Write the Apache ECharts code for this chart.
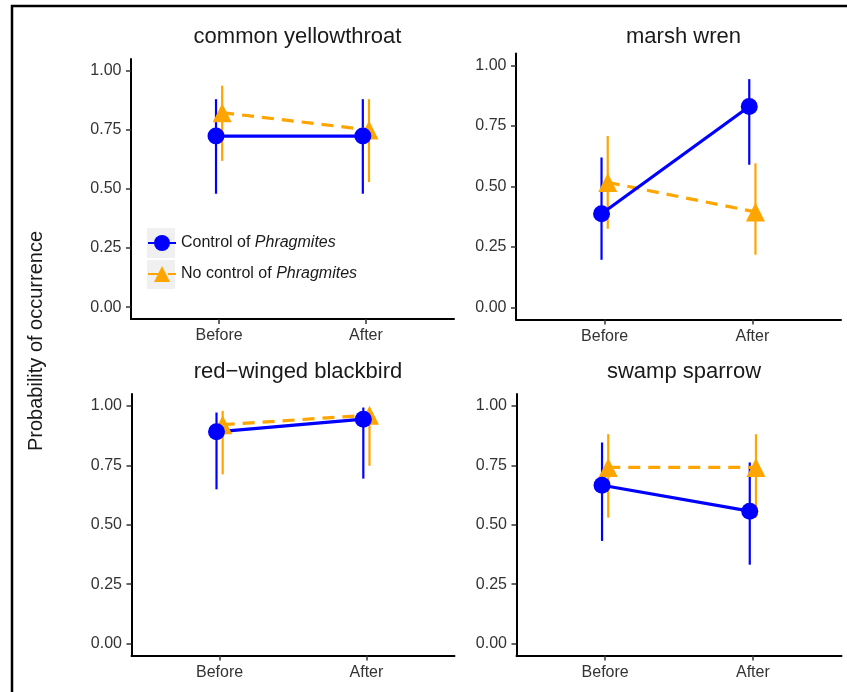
<!DOCTYPE html>
<html>
<head>
<meta charset="utf-8">
<script src="https://cdn.jsdelivr.net/npm/echarts@6/dist/echarts.min.js"></script>
<style>html,body{margin:0;padding:0;background:#fff;}#c{width:847px;height:692px;}</style>
</head>
<body>
<div id="c"></div>
<script>
// ---- data ----
const categories = ['Before', 'After'];
const panelTitles = ['common yellowthroat', 'marsh wren', 'red\u2212winged blackbird', 'swamp sparrow'];
const yTickValues = [0, 0.25, 0.5, 0.75, 1.0];
const seriesNames = ['Control of Phragmites', 'No control of Phragmites'];

// Control of Phragmites (blue)
const ctrlMean = [[0.724, 0.724], [0.387, 0.831], [0.891, 0.944], [0.666, 0.557]];
const ctrlLow  = [[0.480, 0.480], [0.197, 0.590], [0.649, 0.694], [0.432, 0.332]];
const ctrlHigh = [[0.880, 0.880], [0.620, 0.944], [0.972, 0.993], [0.846, 0.762]];
// No control of Phragmites (orange)
const noMean = [[0.823, 0.750], [0.517, 0.395], [0.921, 0.961], [0.741, 0.741]];
const noLow  = [[0.619, 0.529], [0.325, 0.218], [0.712, 0.748], [0.530, 0.530]];
const noHigh = [[0.937, 0.880], [0.709, 0.596], [0.979, 0.990], [0.881, 0.881]];

// ---- layout ----
const grids = [
  {left: 131, top: 59, width: 323, height: 260},
  {left: 516, top: 53.5, width: 325, height: 266},
  {left: 131.5, top: 394, width: 323, height: 261.5},
  {left: 516.5, top: 394, width: 325, height: 261.5}
];
const dodge = 0.021;
const BLUE = '#0000FF', ORANGE = '#FFA500';
const FONT = "'Liberation Sans', Arial, sans-serif";

const chart = echarts.init(document.getElementById('c'), null, {renderer: 'canvas'});

const xAxes = [], yAxes = [], titles = [], series = [];
grids.forEach((g, i) => {
  xAxes.push({
    gridIndex: i, type: 'value', min: 0.4, max: 2.6,
    axisLine: {show: true, onZero: false, lineStyle: {color: '#000', width: 2}},
    axisTick: {show: true, customValues: categories.map((c, j) => j + 1), length: 5, lineStyle: {color: '#333', width: 1.5}},
    axisLabel: {customValues: categories.map((c, j) => j + 1), formatter: v => categories[Math.round(v) - 1] || '',
      color: '#333', fontSize: 16, fontFamily: FONT, margin: 9},
    splitLine: {show: false}
  });
  yAxes.push({
    gridIndex: i, type: 'value', min: -0.05, max: 1.05,
    axisLine: {show: true, onZero: false, lineStyle: {color: '#000', width: 2}},
    axisTick: {show: true, customValues: yTickValues, length: 5, lineStyle: {color: '#333', width: 1.5}},
    axisLabel: {customValues: yTickValues, formatter: v => v.toFixed(2), color: '#333', fontSize: 16, fontFamily: FONT, margin: 9.5},
    splitLine: {show: false}
  });
  titles.push({
    text: panelTitles[i], left: g.left + g.width / 2, top: i < 2 ? 21 : 356, textAlign: 'center',
    textStyle: {fontSize: 22, fontWeight: 'normal', color: '#1a1a1a', fontFamily: FONT}
  });

  const groups = [
    {name: seriesNames[1], color: ORANGE, mean: noMean[i], lo: noLow[i], hi: noHigh[i], off: dodge, dashed: true, symbol: 'triangle', size: 19},
    {name: seriesNames[0], color: BLUE, mean: ctrlMean[i], lo: ctrlLow[i], hi: ctrlHigh[i], off: -dodge, dashed: false, symbol: 'circle', size: 17}
  ];
  groups.forEach(gr => {
    series.push({
      type: 'custom', name: gr.name + ' err', xAxisIndex: i, yAxisIndex: i, silent: true,
      data: categories.map((c, j) => [j + 1 + gr.off, gr.lo[j], gr.hi[j]]),
      encode: {x: 0, y: [1, 2]},
      renderItem: (params, api) => {
        const p1 = api.coord([api.value(0), api.value(1)]);
        const p2 = api.coord([api.value(0), api.value(2)]);
        return {type: 'line', shape: {x1: p1[0], y1: p1[1], x2: p2[0], y2: p2[1]},
          style: {stroke: gr.color, lineWidth: 2.2}};
      }
    });
    series.push({
      type: 'line', name: gr.name, xAxisIndex: i, yAxisIndex: i,
      data: categories.map((c, j) => [j + 1 + gr.off, gr.mean[j]]),
      symbol: gr.symbol, symbolSize: gr.size, showSymbol: true,
      lineStyle: {color: gr.color, width: 3.2, type: gr.dashed ? [12, 8] : 'solid'},
      itemStyle: {color: gr.color, borderWidth: 0},
      animation: false
    });
  });
});

chart.setOption({
  animation: false,
  backgroundColor: '#fff',
  grid: grids,
  xAxis: xAxes,
  yAxis: yAxes,
  title: titles,
  series: series,
  legend: {
    data: [seriesNames[0], seriesNames[1]],
    orient: 'vertical', left: 147, top: 233, padding: 0,
    itemWidth: 28, itemHeight: 20, itemGap: 11,
    selectedMode: false,
    formatter: name => {
      const k = name.indexOf('Phragmites');
      return '{n|' + name.slice(0, k) + '}{i|Phragmites}';
    },
    textStyle: {
      fontSize: 16, color: '#1a1a1a', fontFamily: FONT, height: 20, lineHeight: 20,
      rich: {n: {fontSize: 16, fontFamily: FONT, color: '#1a1a1a', height: 20, lineHeight: 20},
             i: {fontSize: 16, fontStyle: 'italic', fontFamily: FONT, color: '#1a1a1a', height: 20, lineHeight: 20}}
    }
  },
  graphic: [
    {type: 'rect', shape: {x: 12, y: 6, width: 900, height: 800}, style: {fill: 'none', stroke: '#000', lineWidth: 2.5}, z: 100, silent: true},
    {type: 'rect', shape: {x: 147, y: 228, width: 28, height: 30}, style: {fill: '#f0f0f0'}, z: -10, silent: true},
    {type: 'rect', shape: {x: 147, y: 260, width: 28, height: 29}, style: {fill: '#f0f0f0'}, z: -10, silent: true},
    {type: 'text', x: 36, y: 341, rotation: Math.PI / 2,
      style: {text: 'Probability of occurrence', fontSize: 20, fontFamily: FONT, fill: '#1a1a1a', align: 'center', verticalAlign: 'middle'}}
  ]
});
</script>
</body>
</html>
